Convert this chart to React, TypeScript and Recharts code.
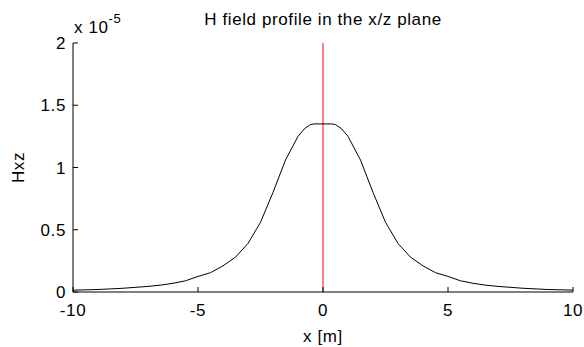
import { LineChart, Line, XAxis, YAxis, ReferenceLine, Label } from "recharts";

const xPositions = [
  -10, -9, -8, -7, -6.5, -6, -5.5, -5, -4.5, -4, -3.5, -3, -2.5, -2, -1.5, -1,
  -0.75, -0.5, -0.35, 0, 0.35, 0.5, 0.75, 1, 1.5, 2, 2.5, 3, 3.5, 4, 4.5, 5,
  5.5, 6, 6.5, 7, 8, 9, 10,
];
// Hxz in units of 1e-5
const hxzValues = [
  0.015, 0.02, 0.03, 0.045, 0.055, 0.07, 0.09, 0.125, 0.155, 0.21, 0.28, 0.39,
  0.56, 0.8, 1.06, 1.25, 1.31, 1.345, 1.35, 1.35, 1.35, 1.345, 1.31, 1.25, 1.06,
  0.8, 0.56, 0.39, 0.28, 0.21, 0.155, 0.125, 0.09, 0.07, 0.055, 0.045, 0.03,
  0.02, 0.015,
];
const xTicks = [-10, -5, 0, 5, 10];
const yTicks = [0, 0.5, 1, 1.5, 2];

const title = "H field profile in the x/z plane";
const xLabel = "x [m]";
const yLabel = "Hxz";

const data = xPositions.map((x, i) => ({ x, hxz: hxzValues[i] }));

const font = "'Liberation Sans', Arial, sans-serif";
const textStyle = { fontFamily: font, fontSize: 17, letterSpacing: 0.6, fill: "#000" };
const margin = { top: 43, right: 11, bottom: 25, left: 33 };

export default function App() {
  return (
    <div style={{ position: "absolute", left: 0, top: 0, background: "#fff" }}>
      <LineChart width={584} height={347} data={data} margin={margin}>
        <XAxis
          dataKey="x"
          type="number"
          domain={[-10, 10]}
          ticks={xTicks}
          height={30}
          stroke="#000"
          tickSize={-5}
          tickMargin={17}
          tick={textStyle}
        >
          <Label
            content={({ viewBox }: any) => (
              <g>
                <text
                  x={viewBox.x + viewBox.width / 2}
                  y={margin.top - 18}
                  textAnchor="middle"
                  style={textStyle}
                >
                  {title}
                </text>
                <text
                  x={viewBox.x + viewBox.width / 2}
                  y={viewBox.y + 50}
                  textAnchor="middle"
                  style={textStyle}
                >
                  {xLabel}
                </text>
              </g>
            )}
          />
        </XAxis>
        <YAxis
          type="number"
          domain={[0, 2]}
          ticks={yTicks}
          width={40}
          stroke="#000"
          tickSize={-5}
          tickMargin={12}
          tick={textStyle}
        >
          <Label
            content={({ viewBox }: any) => (
              <g>
                <text
                  transform={`translate(${viewBox.x - 9}, ${viewBox.y + viewBox.height / 2}) rotate(-90)`}
                  textAnchor="middle"
                  style={textStyle}
                >
                  {yLabel}
                </text>
                <text x={viewBox.x + viewBox.width + 1} y={viewBox.y - 10} style={textStyle}>
                  x 10
                  <tspan dy={-10} style={{ fontSize: 13 }}>
                    -5
                  </tspan>
                </text>
              </g>
            )}
          />
        </YAxis>
        <ReferenceLine x={0} stroke="#ff0000" strokeWidth={1} />
        <Line
          dataKey="hxz"
          type="linear"
          stroke="#000"
          strokeWidth={1}
          dot={false}
          isAnimationActive={false}
        />
      </LineChart>
    </div>
  );
}
